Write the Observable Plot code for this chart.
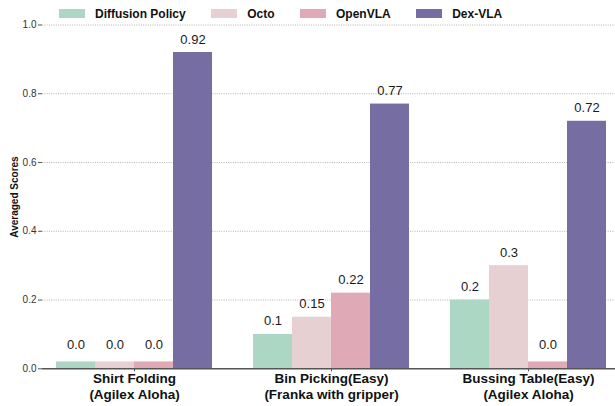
<!DOCTYPE html>
<html>
<head>
<meta charset="utf-8">
<script src="https://cdn.jsdelivr.net/npm/d3@7"></script>
<script src="https://cdn.jsdelivr.net/npm/@observablehq/plot@0.6"></script>
<style>
  html, body { margin: 0; padding: 0; background: #fff; overflow: hidden; }
  body { width: 615px; height: 406px; position: relative; font-family: "Liberation Sans", Arial, sans-serif; }
  #legend { position: absolute; top: 0; left: 0; height: 27px; display: flex; align-items: center; padding-left: 59px; font-size: 12px; font-weight: bold; color: #111; z-index: 5; }
  #legend .item { display: flex; align-items: center; margin-right: 25.5px; }
  #legend .sw { width: 26px; height: 8.5px; margin-right: 10px; }
  .layer { position: absolute; top: 0; left: 0; }
  #ylabel { position: absolute; left: 13.5px; top: 196.5px; transform: translate(-50%, -50%) rotate(-90deg); white-space: nowrap; font-size: 10px; font-weight: bold; color: #111; z-index: 5; }
</style>
</head>
<body>
<div id="legend"></div>
<div id="grid" class="layer" style="z-index:1"></div>
<div id="chart" class="layer" style="z-index:2"></div>
<div id="axis" class="layer" style="z-index:3"></div>
<div id="ylabel"></div>
<script>
// ---- data ----
const tasks = ["Shirt Folding", "Bin Picking(Easy)", "Bussing Table(Easy)"];
const robots = ["(Agilex Aloha)", "(Franka with gripper)", "(Agilex Aloha)"];
const models = ["Diffusion Policy", "Octo", "OpenVLA", "Dex-VLA"];
const diffusionPolicy = [0.0, 0.1, 0.2];
const octo = [0.0, 0.15, 0.3];
const openVLA = [0.0, 0.22, 0.0];
const dexVLA = [0.92, 0.77, 0.72];
const yTicks = [0.0, 0.2, 0.4, 0.6, 0.8, 1.0];
const yTitle = "Averaged Scores";
const colors = ["#abd7c4", "#e7d0d1", "#dfaab5", "#766ea2"];

const categories = tasks.map((t, i) => `${t}\n${robots[i]}`);
const seriesValues = [diffusionPolicy, octo, openVLA, dexVLA];
const data = [];
categories.forEach((c, i) => {
  models.forEach((m, j) => data.push({category: c, model: m, value: seriesValues[j][i]}));
});
const fmt = v => Number.isInteger(v) ? v.toFixed(1) : String(v);

// ---- legend & y title ----
const legend = document.getElementById("legend");
models.forEach((m, j) => {
  const it = document.createElement("div");
  it.className = "item";
  it.innerHTML = `<span class="sw" style="background:${colors[j]}"></span><span>${m}</span>`;
  legend.appendChild(it);
});
document.getElementById("ylabel").textContent = yTitle;

// ---- shared layout ----
const common = {
  width: 615,
  height: 406,
  marginLeft: 42,
  marginRight: 0,
  marginTop: 24.5,
  marginBottom: 37.7,
  style: {fontFamily: "'Liberation Sans', Arial, sans-serif", background: "transparent", color: "#222"},
  y: {domain: [0, 1], label: null, axis: null}
};

// grid layer (behind bars)
const grid = Plot.plot({
  ...common,
  marks: [
    Plot.ruleY(yTicks.filter(d => d > 0), {stroke: "#ababab", strokeWidth: 0.9, strokeDasharray: "1,1.3"})
  ]
});
document.getElementById("grid").appendChild(grid);

// bars layer
const chart = Plot.plot({
  ...common,
  fx: {domain: categories, paddingInner: 0.2, paddingOuter: 0.0514, align: 0.59, label: null},
  x: {domain: models, padding: 0, axis: null},
  color: {domain: models, range: colors},
  marks: [
    Plot.barY(data, {fx: "category", x: "model", y: d => Math.max(d.value, 0.02), fill: "model"}),
    Plot.text(data, {fx: "category", x: "model", y: d => Math.max(d.value, 0.03), text: d => fmt(d.value), lineAnchor: "bottom", dy: -9, fontSize: 13, fill: "#1a1a1a"}),
    Plot.axisFx({anchor: "bottom", tickSize: 3, tickPadding: -1, fontSize: 13.5, fontWeight: "bold", lineHeight: 1.22, label: null, stroke: "#555", fill: "#111"})
  ]
});
document.getElementById("chart").appendChild(chart);

// axis layer (baseline and y ticks on top)
const axis = Plot.plot({
  ...common,
  marks: [
    Plot.ruleY([0], {stroke: "#555", strokeWidth: 1.5}),
    Plot.axisY({ticks: yTicks, tickFormat: d3.format(".1f"), tickSize: 4, tickPadding: 2, fontSize: 10, stroke: "#555", label: null, fill: "#333"})
  ]
});
document.getElementById("axis").appendChild(axis);
</script>
</body>
</html>
